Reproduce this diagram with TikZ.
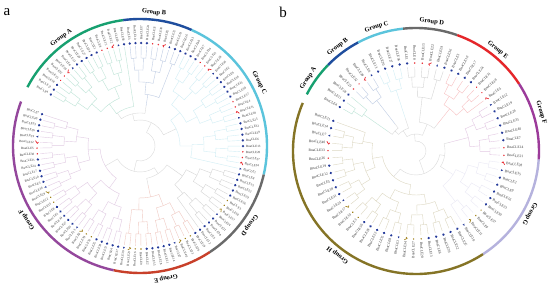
\documentclass[tikz,border=0pt]{standalone}
\usepackage{fontspec}
\setmainfont{Liberation Serif}
\definecolor{gA}{HTML}{17A070}
\definecolor{gB}{HTML}{1F4E9E}
\definecolor{gC}{HTML}{5BC4DC}
\definecolor{gD}{HTML}{6A6A6A}
\definecolor{gE}{HTML}{C8402A}
\definecolor{gF}{HTML}{94479C}
\definecolor{bE}{HTML}{E5262A}
\definecolor{bF}{HTML}{9C3B9A}
\definecolor{bG}{HTML}{B5B2DD}
\definecolor{bH}{HTML}{857426}
\definecolor{mkblue}{HTML}{243A9A}
\definecolor{mkred}{HTML}{E8232A}
\definecolor{mkol}{HTML}{A08018}
\tikzset{
  grplab/.style={font=\bfseries\fontsize{6.5}{7}\selectfont, inner sep=0pt},
  leafa/.style={font=\fontsize{3.2}{3.4}\selectfont, inner sep=0pt, text=black!80},
  leafb/.style={font=\fontsize{3.6}{3.8}\selectfont, inner sep=0pt, text=black!80},
  grparc/.style={line width=2.4pt},
  br/.style={line width=0.4pt, color=#1!28},
  panlab/.style={font=\fontsize{15}{16}\selectfont, inner sep=0pt}
}
\newcommand\subtree[3]{%
  \foreach \k in {1,...,5}{%
    \pgfmathtruncatemacro\sz{2^\k}%
    \pgfmathtruncatemacro\hh{2^(\k-1)}%
    \pgfmathtruncatemacro\nc{ceil((#2-#1+1)/\sz)-1}%
    \pgfmathsetmacro\rin{\RL-\DR*\k}%
    \pgfmathsetmacro\rout{\RL-\DR*(\k-1)}%
    \foreach \j in {0,...,\nc}{%
      \pgfmathtruncatemacro\cs{#1+\j*\sz}%
      \pgfmathtruncatemacro\ce{min(\cs+\hh-1,#2)}%
      \pgfmathtruncatemacro\ds{\cs+\hh}%
      \pgfmathtruncatemacro\de{min(\cs+\sz-1,#2)}%
      \pgfmathsetmacro\ta{\AZ-\ST*(\cs+\ce)/2}%
      \ifnum\ds>#2\relax
        \draw[br=#3] (\ta:\rout) -- (\ta:\rin);%
      \else
        \pgfmathsetmacro\tb{\AZ-\ST*(\ds+\de)/2}%
        \draw[br=#3] (\ta:\rout) -- (\ta:\rin) arc[start angle=\ta, end angle=\tb, radius=\rin] -- (\tb:\rout);%
      \fi
    }%
  }%
}
\newcommand\joinb[6]{\draw[br=#6] (#1:#2) -- (#1:#5) arc[start angle=#1, end angle=#3, radius=#5] -- (#3:#4);}
\newcommand\leaves[5]{% #1 N-1, #2 marker r, #3 label r, #4 style, #5 prefix
  \foreach \i in {0,...,#1}{%
    \pgfmathsetmacro\th{\AZ-\ST*\i}%
    \pgfmathtruncatemacro\mt{mod(\i*37+11,9)}%
    \pgfmathtruncatemacro\up{sin(\th)>-0.25}%
    \pgfmathtruncatemacro\rt{cos(\th)>=0}%
    \pgfmathtruncatemacro\nm{mod(\i*7+3,40)+1}%
    \ifnum\up=1 \def\mc{mkred}\else\def\mc{mkol}\fi
    \begin{scope}[shift={(\th:#2)}, rotate=\th]
    \ifnum\mt<5 \fill[mkblue] (0,0) circle[radius=1.3];%
    \else\ifnum\mt<7 \fill[\mc] (0,0) circle[radius=0.8];%
    \else\ifnum\mt=7 \draw[\mc, line width=0.7pt] (-1.4,-0.2) -- (-0.2,1.0) -- (1.6,-1.6);%
    \else \fill[mkblue] (1.2,0) -- (-0.8,1.0) -- (-0.8,-1.0) -- cycle;%
    \fi\fi\fi
    \end{scope}
    \ifnum\rt=1
      \node[#4, rotate=\th, anchor=west] (#5\i) at (\th:#3) {BnaCLE\nm};%
    \else
      \pgfmathsetmacro\tr{\th+180}%
      \node[#4, rotate=\tr, anchor=east] (#5\i) at (\th:#3) {BnaCLE\nm};%
    \fi
  }%
}
\begin{document}
\begin{tikzpicture}[x=1pt,y=1pt]
\useasboundingbox (0,0) rectangle (550,288);
\fill[white] (0,0) rectangle (550,288);
\node[panlab] (pa) at (7,276) {a};
\node[panlab] (pb) at (283,276) {b};
% ---------------- panel a
\begin{scope}[shift={(140,142)}]
\def\AZ{150}\def\ST{3.19266}\def\RL{100}\def\DR{12}
\subtree{0}{16}{gA}
\subtree{17}{26}{gB}
\subtree{27}{51}{gC}
\subtree{52}{64}{gD}
\subtree{65}{78}{gE}
\subtree{79}{109}{gF}
\joinb{124.46}{40}{81.36}{40}{33}{gray}
\joinb{102.91}{33}{25.48}{40}{26}{gray}
\joinb{-35.18}{40}{-78.28}{40}{33}{gray}
\joinb{-56.73}{33}{-150.11}{40}{26}{gray}
\joinb{64.2}{26}{-103.42}{26}{15}{gray}
\leaves{109}{103}{106}{leafa}{la}
\draw[grparc, gA] (152.4:127) arc[start angle=152.4, end angle=97.6, radius=127];
\draw[grparc, gB] (97.6:127) arc[start angle=97.6, end angle=66, radius=127];
\draw[grparc, gC] (66:127) arc[start angle=66, end angle=-13, radius=127];
\draw[grparc, gD] (-13:127) arc[start angle=-13, end angle=-56.7, radius=127];
\draw[grparc, gE] (-56.7:127) arc[start angle=-56.7, end angle=-102, radius=127];
\draw[grparc, gF] (-102:127) arc[start angle=-102, end angle=-200.5, radius=127];
\node[grplab, rotate=36] (gaA) at (126:134) {Group A};
\node[grplab, rotate=-6] (gaB) at (84:134) {Group B};
\node[grplab, rotate=-62] (gaC) at (28:135) {Group C};
\node[grplab, rotate=-126] (gaD) at (-36:135) {Group D};
\node[grplab, rotate=-169] (gaE) at (-79:135) {Group E};
\node[grplab, rotate=-237] (gaF) at (-147:135) {Group F};
\end{scope}
% ---------------- panel b
\begin{scope}[shift={(416,137)}]
\def\AZ{150}\def\ST{4.92958}\def\RL{84}\def\DR{10}
\subtree{0}{2}{gA}
\subtree{3}{6}{gB}
\subtree{7}{10}{gC}
\subtree{11}{16}{gD}
\subtree{17}{23}{bE}
\subtree{24}{31}{bF}
\subtree{32}{42}{bG}
\subtree{43}{71}{bH}
\joinb{145.07}{34}{127.82}{34}{29}{gray}
\joinb{136.45}{29}{108.10}{34}{24}{gray}
\joinb{83.45}{34}{51.41}{34}{29}{gray}
\joinb{122.27}{24}{67.43}{29}{17}{gray}
\joinb{14.44}{34}{-32.40}{34}{29}{gray}
\joinb{-8.98}{29}{-130.99}{34}{24}{gray}
\joinb{94.85}{17}{-69.99}{24}{10}{gray}
\leaves{71}{88}{91}{leafb}{lb}
\draw[grparc, gA] (152.6:123) arc[start angle=152.6, end angle=135.6, radius=123];
\draw[grparc, gB] (135.6:123) arc[start angle=135.6, end angle=118, radius=123];
\draw[grparc, gC] (118:123) arc[start angle=118, end angle=96, radius=123];
\draw[grparc, gD] (96:123) arc[start angle=96, end angle=70.4, radius=123];
\draw[grparc, bE] (70.4:123) arc[start angle=70.4, end angle=33, radius=123];
\draw[grparc, bF] (33:123) arc[start angle=33, end angle=-4, radius=123];
\draw[grparc, bG] (-4:123) arc[start angle=-4, end angle=-57, radius=123];
\draw[grparc, bH] (-57:123) arc[start angle=-57, end angle=-203, radius=123];
\node[grplab, rotate=56] (gbA) at (146:130) {Group A};
\node[grplab, rotate=37] (gbB) at (127:130) {Group B};
\node[grplab, rotate=17.6] (gbC) at (107.6:130) {Group C};
\node[grplab, rotate=-7] (gbD) at (83:130) {Group D};
\node[grplab, rotate=-39] (gbE) at (51:130) {Group E};
\node[grplab, rotate=-73] (gbF) at (17:131) {Group F};
\node[grplab, rotate=-119] (gbG) at (-29:130) {Group G};
\node[grplab, rotate=-217] (gbH) at (-127:130) {Group H};
\end{scope}
\end{tikzpicture}
\end{document}
